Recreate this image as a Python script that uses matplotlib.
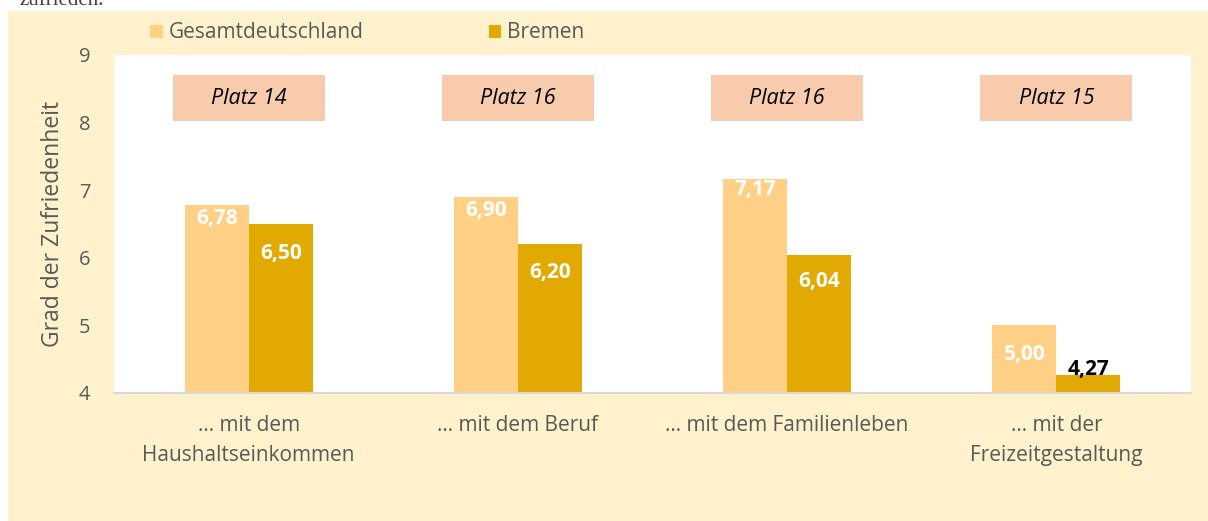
import matplotlib
matplotlib.use("Agg")
import matplotlib.pyplot as plt
from matplotlib.patches import Rectangle, Patch
import numpy as np

categories = ["... mit dem\nHaushaltseinkommen", "... mit dem Beruf",
              "... mit dem Familienleben", "... mit der\nFreizeitgestaltung"]
gesamt = [6.78, 6.90, 7.17, 5.00]
bremen = [6.50, 6.20, 6.04, 4.27]
platz = ["Platz 14", "Platz 16", "Platz 16", "Platz 15"]
series_names = ["Gesamtdeutschland", "Bremen"]
yticks = [4, 5, 6, 7, 8, 9]

# label offsets (points below bar top; negative = above)
gesamt_off = [10, 10, 8, 21]
bremen_off = [21, 20, 19, -4]

C_G = "#FFD086"
C_B = "#E2AA00"
C_BOX = "#F8CBAD"
C_BG = "#FFF2CC"
C_TXT = "#595959"

plt.rcParams['font.family'] = ['Open Sans', 'DejaVu Sans']

W, H = 1208, 521
fig = plt.figure(figsize=(W / 100, H / 100), dpi=100, facecolor="white")
fig.patches.append(Rectangle((8 / W, 0), 1 - 8 / W, (H - 11) / H,
                             transform=fig.transFigure, facecolor=C_BG,
                             edgecolor="none", zorder=-10))
fig.text(20 / W, 1 - 5 / H, "zufrieden.", family="Liberation Serif",
         fontsize=15, color="#404040", va="baseline", ha="left", zorder=-11)

ax = fig.add_axes([114 / W, 1 - 393 / H, (1191 - 114) / W, (393 - 55) / H])
ax.set_zorder(1)
ax.set_facecolor("white")
x = np.arange(len(categories))
bw = 0.238
ax.bar(x - bw / 2, gesamt, bw, color=C_G, zorder=2)
ax.bar(x + bw / 2, bremen, bw, color=C_B, zorder=2)
ax.set_ylim(4, 9)
ax.set_xlim(-0.5, len(categories) - 0.5)
ax.set_yticks(yticks)
ax.set_xticks(x)
ax.set_xticklabels(categories, linespacing=1.55)
ax.tick_params(axis="x", length=0, labelsize=15, colors=C_TXT, pad=16)
ax.tick_params(axis="y", length=0, labelsize=14.5, colors=C_TXT, pad=17)
for s in ["left", "right", "top"]:
    ax.spines[s].set_visible(False)
ax.spines["bottom"].set_color("#D9D9D9")
ax.spines["bottom"].set_linewidth(1.5)
ax.set_ylabel("Grad der Zufriedenheit", fontsize=16.5, color=C_TXT, labelpad=10)

def fmt(v):
    return f"{v:.2f}".replace(".", ",")

for i, v in enumerate(gesamt):
    ax.annotate(fmt(v), (x[i] - bw / 2, v), xytext=(0, -gesamt_off[i]),
                textcoords="offset points", ha="center", va="center",
                color="white", fontweight="bold", fontsize=15, zorder=3)
for i, v in enumerate(bremen):
    col = "white" if bremen_off[i] > 0 else "black"
    ax.annotate(fmt(v), (x[i] + bw / 2, v), xytext=(0, -bremen_off[i]),
                textcoords="offset points", ha="center", va="center",
                color=col, fontweight="bold", fontsize=15, zorder=3)

bxw = 0.565
for i, p in enumerate(platz):
    ax.add_patch(Rectangle((x[i] - bxw / 2, 8.02), bxw, 0.68, facecolor=C_BOX,
                           edgecolor="none", zorder=2))
    ax.text(x[i], 8.36, p, ha="center", va="center", style="italic",
            fontsize=15.5, color="black", zorder=3)

handles = [Patch(facecolor=C_G, edgecolor="none"), Patch(facecolor=C_B, edgecolor="none")]
fig.legend(handles, series_names, ncol=2, loc="center left",
           bbox_to_anchor=(150 / W, 1 - 33 / H), frameon=False,
           fontsize=15, labelcolor=C_TXT, handlelength=0.6, handleheight=0.6,
           handletextpad=0.3, columnspacing=6.0, borderaxespad=0, borderpad=0)

fig.savefig("out.png", dpi=100, facecolor="white")
